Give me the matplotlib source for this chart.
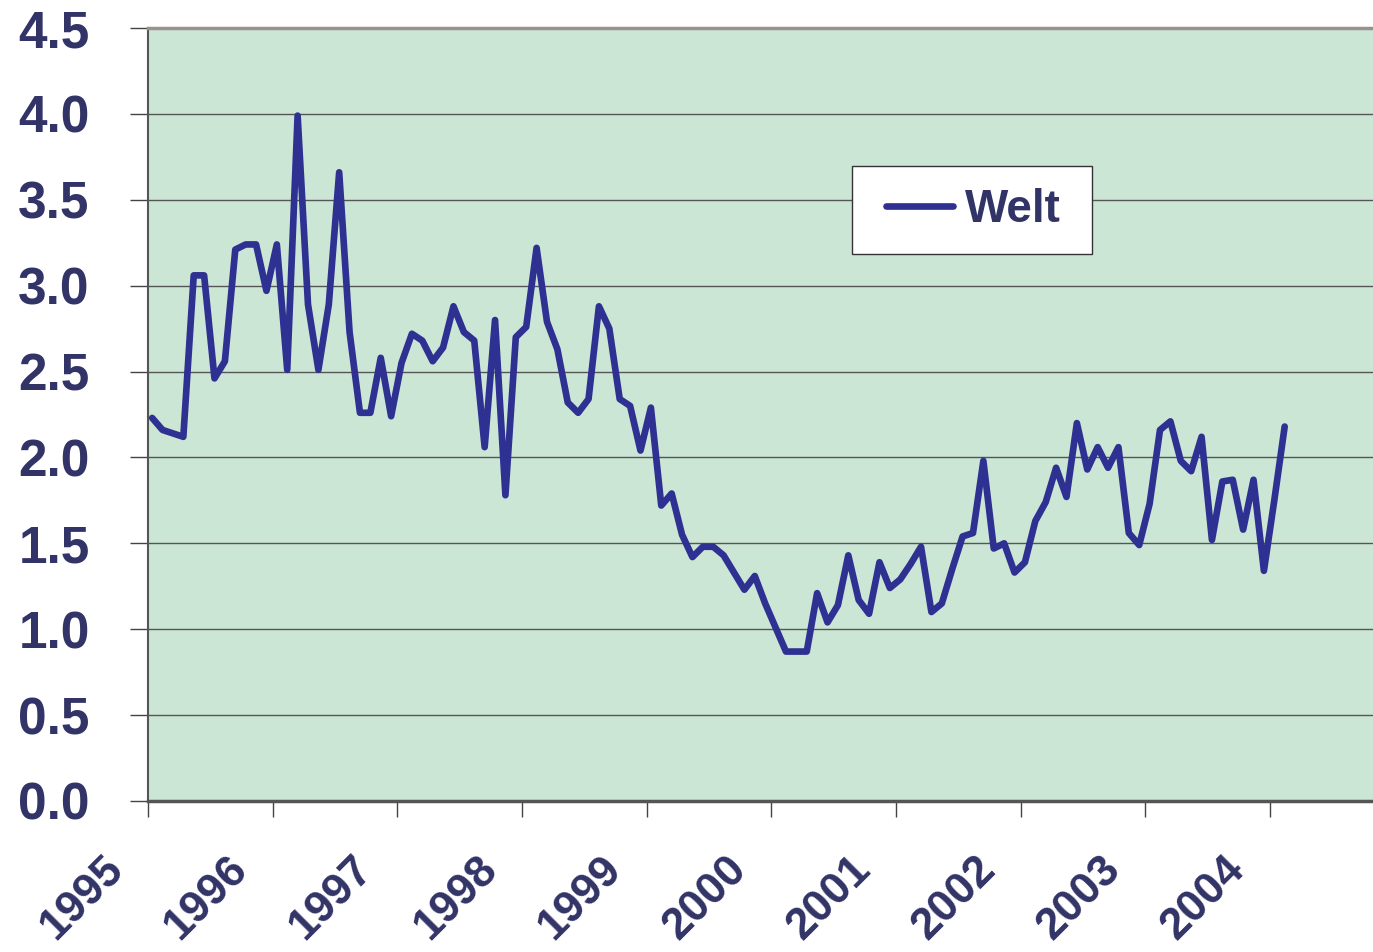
#!/usr/bin/env python3
import numpy as np
import matplotlib
matplotlib.use("Agg")
import matplotlib.pyplot as plt
import matplotlib.transforms as mtransforms
from matplotlib.patches import Rectangle

# monthly values, Jan 1995 .. Feb 2004
y1995 = [2.23, 2.16, 2.14, 2.12, 3.06, 3.06, 2.46, 2.56, 3.21, 3.24, 3.24, 2.97]
y1996 = [3.24, 2.51, 3.99, 2.89, 2.51, 2.89, 3.66, 2.73, 2.26, 2.26, 2.58, 2.24]
y1997 = [2.55, 2.72, 2.68, 2.56, 2.64, 2.88, 2.73, 2.68, 2.06, 2.80, 1.78, 2.70]
y1998 = [2.76, 3.22, 2.79, 2.63, 2.32, 2.26, 2.34, 2.88, 2.75, 2.34, 2.30, 2.04]
y1999 = [2.29, 1.72, 1.79, 1.55, 1.42, 1.48, 1.48, 1.43, 1.33, 1.23, 1.31, 1.15]
y2000 = [1.01, 0.87, 0.87, 0.87, 1.21, 1.04, 1.14, 1.43, 1.17, 1.09, 1.39, 1.24]
y2001 = [1.29, 1.38, 1.48, 1.10, 1.15, 1.35, 1.54, 1.56, 1.98, 1.47, 1.50, 1.33]
y2002 = [1.39, 1.63, 1.74, 1.94, 1.77, 2.20, 1.93, 2.06, 1.94, 2.06, 1.56, 1.49]
y2003 = [1.73, 2.16, 2.21, 1.98, 1.92, 2.12, 1.52, 1.86, 1.87, 1.58, 1.87, 1.34]
y2004 = [1.75, 2.18]

welt = y1995 + y1996 + y1997 + y1998 + y1999 + y2000 + y2001 + y2002 + y2003 + y2004
years = [1995, 1996, 1997, 1998, 1999, 2000, 2001, 2002, 2003, 2004]
yticks = [0.0, 0.5, 1.0, 1.5, 2.0, 2.5, 3.0, 3.5, 4.0, 4.5]

TXT = "#323366"
LINE = "#2E3192"
BG = "#CCE6D6"

plt.rcParams["font.family"] = ["Liberation Sans", "DejaVu Sans"]

fig = plt.figure(figsize=(13.73, 9.52), dpi=100)
ax = fig.add_axes([148 / 1373, 151 / 952, 1225 / 1373, 773 / 952])
ax.set_facecolor(BG)

x = np.arange(len(welt))
ax.plot(x, welt, color=LINE, lw=4.8, solid_joinstyle="round",
        solid_capstyle="round", label="Welt", zorder=3)

ax.set_xlim(-0.4, 117.5)
ax.set_ylim(0, 4.5)

ax.set_yticks(yticks)
ax.set_yticklabels([f"{v:.1f}" for v in yticks])
ax.set_xticks([12 * i - 0.4 for i in range(len(years))])
ax.set_xticklabels([str(y) for y in years], rotation=45, ha="right", va="top")

ax.yaxis.grid(True, color="#555555", lw=1.0)
ax.set_axisbelow(True)

ax.tick_params(axis="y", direction="out", length=13, width=1, color="#444444",
               pad=29, labelsize=37, labelcolor=TXT)
ax.tick_params(axis="x", direction="out", length=11.5, width=1, color="#444444",
               pad=23, labelsize=32, labelcolor=TXT)
for lab in ax.get_xticklabels() + ax.get_yticklabels():
    lab.set_fontweight("bold")

offset = mtransforms.ScaledTranslation(-17 / 100, 0, fig.dpi_scale_trans)
for lab in ax.get_xticklabels():
    lab.set_transform(lab.get_transform() + offset)

ax.spines["right"].set_visible(False)
ax.spines["top"].set_color("#9A9090")
ax.spines["top"].set_linewidth(2.5)
ax.spines["left"].set_color("#555555")
ax.spines["left"].set_linewidth(1.5)
ax.spines["bottom"].set_color("#555555")
ax.spines["bottom"].set_linewidth(2.5)

# legend box drawn separately so its size matches the original
box = Rectangle((0.575, 0.708), 0.196, 0.113, transform=ax.transAxes,
                facecolor="white", edgecolor="#333333", lw=1.0, zorder=4)
ax.add_patch(box)
leg = ax.legend(loc="center", bbox_to_anchor=(0.674, 0.7646),
                prop={"size": 33, "weight": "bold"}, frameon=False,
                handlelength=1.45, handletextpad=0.27, borderpad=0.2)
leg.set_zorder(5)
for t in leg.get_texts():
    t.set_color(TXT)

fig.savefig("out.png", dpi=100)
